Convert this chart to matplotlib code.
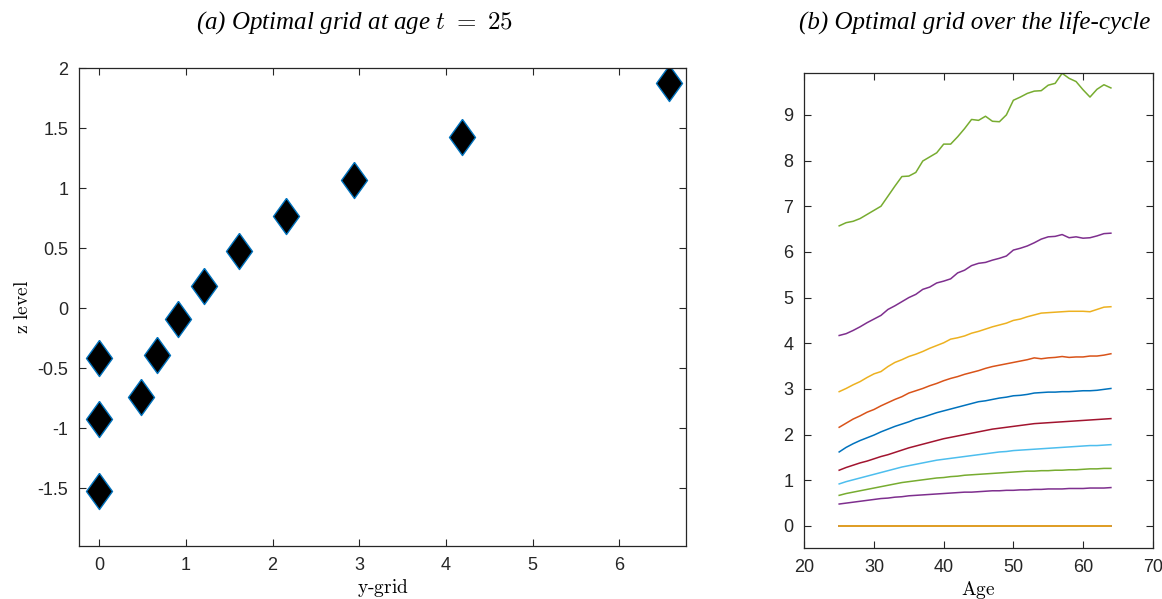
import numpy as np
import matplotlib
matplotlib.use("Agg")
import matplotlib.pyplot as plt

# dane panel (a): punkty siatki w wieku 25
y_grid = [0.0, 0.0, 0.0, 0.48, 0.67, 0.91, 1.21, 1.61, 2.16, 2.94, 4.18, 6.57]
z_level = [-1.52, -0.92, -0.41, -0.74, -0.39, -0.09, 0.19, 0.48, 0.77, 1.07, 1.43, 1.88]

# dane panel (b): siatka w cyklu życia
ages = list(range(25, 65))
g_zero = [0.0] * 40
g4 = [0.48, 0.50, 0.52, 0.54, 0.56, 0.58, 0.60, 0.61, 0.63, 0.64,
      0.66, 0.67, 0.68, 0.69, 0.70, 0.71, 0.72, 0.73, 0.74, 0.74,
      0.75, 0.76, 0.77, 0.77, 0.78, 0.78, 0.79, 0.79, 0.80, 0.80,
      0.81, 0.81, 0.81, 0.82, 0.82, 0.82, 0.83, 0.83, 0.83, 0.84]
g5 = [0.67, 0.71, 0.74, 0.77, 0.80, 0.83, 0.86, 0.89, 0.92, 0.95,
      0.97, 0.99, 1.01, 1.03, 1.05, 1.06, 1.08, 1.09, 1.11, 1.12,
      1.13, 1.14, 1.15, 1.16, 1.17, 1.18, 1.19, 1.20, 1.20, 1.21,
      1.21, 1.22, 1.22, 1.23, 1.23, 1.24, 1.25, 1.25, 1.26, 1.26]
g6 = [0.92, 0.97, 1.01, 1.05, 1.09, 1.13, 1.17, 1.21, 1.25, 1.29,
      1.32, 1.35, 1.38, 1.41, 1.44, 1.46, 1.48, 1.50, 1.52, 1.54,
      1.56, 1.58, 1.60, 1.62, 1.63, 1.65, 1.66, 1.67, 1.68, 1.69,
      1.70, 1.71, 1.72, 1.73, 1.74, 1.75, 1.76, 1.76, 1.77, 1.78]
g7 = [1.22, 1.28, 1.33, 1.38, 1.42, 1.47, 1.52, 1.56, 1.61, 1.66,
      1.71, 1.75, 1.79, 1.83, 1.87, 1.91, 1.94, 1.97, 2.00, 2.03,
      2.06, 2.09, 2.12, 2.14, 2.16, 2.18, 2.20, 2.22, 2.24, 2.25,
      2.26, 2.27, 2.28, 2.29, 2.30, 2.31, 2.32, 2.33, 2.34, 2.35]
g8 = [1.62, 1.72, 1.80, 1.87, 1.93, 1.99, 2.06, 2.12, 2.18, 2.23,
      2.28, 2.34, 2.38, 2.43, 2.48, 2.52, 2.56, 2.60, 2.64, 2.68,
      2.72, 2.74, 2.77, 2.80, 2.82, 2.85, 2.86, 2.88, 2.91, 2.92,
      2.93, 2.93, 2.94, 2.94, 2.95, 2.96, 2.96, 2.97, 2.99, 3.01]
g9 = [2.16, 2.25, 2.34, 2.41, 2.49, 2.55, 2.63, 2.70, 2.77, 2.83,
      2.91, 2.96, 3.01, 3.07, 3.12, 3.18, 3.23, 3.27, 3.32, 3.36,
      3.40, 3.45, 3.49, 3.52, 3.55, 3.58, 3.61, 3.64, 3.68, 3.66,
      3.68, 3.69, 3.71, 3.69, 3.70, 3.70, 3.72, 3.72, 3.74, 3.77]
g10 = [2.94, 3.01, 3.09, 3.16, 3.25, 3.33, 3.38, 3.49, 3.58, 3.64,
       3.71, 3.76, 3.82, 3.89, 3.95, 4.01, 4.09, 4.12, 4.16, 4.22,
       4.26, 4.31, 4.36, 4.40, 4.44, 4.50, 4.53, 4.58, 4.62, 4.66,
       4.67, 4.68, 4.69, 4.70, 4.70, 4.70, 4.69, 4.74, 4.79, 4.80]
g11 = [4.17, 4.21, 4.28, 4.36, 4.45, 4.53, 4.61, 4.74, 4.82, 4.91,
       5.00, 5.07, 5.18, 5.23, 5.32, 5.36, 5.41, 5.54, 5.60, 5.70,
       5.75, 5.77, 5.82, 5.86, 5.91, 6.04, 6.08, 6.13, 6.20, 6.28,
       6.33, 6.34, 6.38, 6.31, 6.33, 6.30, 6.31, 6.35, 6.40, 6.41]
g12 = [6.57, 6.64, 6.67, 6.73, 6.82, 6.91, 7.00, 7.22, 7.44, 7.65,
       7.66, 7.74, 7.99, 8.08, 8.17, 8.36, 8.36, 8.52, 8.70, 8.90,
       8.88, 8.97, 8.86, 8.85, 9.00, 9.32, 9.39, 9.47, 9.52, 9.53,
       9.65, 9.69, 9.91, 9.80, 9.73, 9.55, 9.39, 9.56, 9.66, 9.59]

series = [g_zero, g_zero, g_zero, g4, g5, g6, g7, g8, g9, g10, g11, g12]
# domyślne kolory MATLAB
colors = ["#0072BD", "#D95319", "#EDB120", "#7E2F8E", "#77AC30", "#4DBEEE", "#A2142F"]

plt.rcParams["font.family"] = "Liberation Sans"
plt.rcParams["axes.unicode_minus"] = False
plt.rcParams["mathtext.fontset"] = "cm"

fig = plt.figure(figsize=(11.62, 5.99), dpi=100)
ax1 = fig.add_axes([0.0682, 0.0885, 0.5222, 0.7975])
ax2 = fig.add_axes([0.6922, 0.0846, 0.2998, 0.7930])

diamond = [(0, 1), (0.72, 0), (0, -1), (-0.72, 0), (0, 1)]
ax1.plot(y_grid, z_level, linestyle="none", marker=diamond, markersize=26,
         markerfacecolor="black", markeredgecolor="#0072BD", markeredgewidth=1.0)
ax1.set_xlim(-0.23, 6.77)
ax1.set_ylim(-1.98, 2.0)
ax1.set_xticks(range(0, 7))
ax1.set_yticks([-1.5, -1, -0.5, 0, 0.5, 1, 1.5, 2])
ax1.set_yticklabels(["-1.5", "-1", "-0.5", "0", "0.5", "1", "1.5", "2"])
ax1.set_xlabel(r"$\mathrm{y\text{-}grid}$", fontsize=14, labelpad=2)
ax1.set_ylabel(r"$\mathrm{z\ level}$", fontsize=14, labelpad=4)

for i, s in enumerate(series):
    ax2.plot(ages, s, color=colors[i % len(colors)], linewidth=1.1)
ax2.set_xlim(20, 70)
ax2.set_ylim(-0.49, 9.91)
ax2.set_xticks(range(20, 71, 10))
ax2.set_yticks(range(0, 10))
ax2.set_xlabel(r"$\mathrm{Age}$", fontsize=14, labelpad=2)

for ax in (ax1, ax2):
    ax.tick_params(direction="in", length=5, width=0.8, labelsize=13,
                   top=True, right=True, colors="#262626", pad=8)
    for sp in ax.spines.values():
        sp.set_color("#262626")
        sp.set_linewidth(0.9)

fig.text(0.305, 0.963, r"(a) Optimal grid at age $t\ =\ 25$", fontsize=18,
         family="Liberation Serif", style="italic", ha="center", va="center")
fig.text(0.839, 0.963, "(b) Optimal grid over the life-cycle", fontsize=18,
         family="Liberation Serif", style="italic", ha="center", va="center")

fig.savefig("out.png", dpi=100)
